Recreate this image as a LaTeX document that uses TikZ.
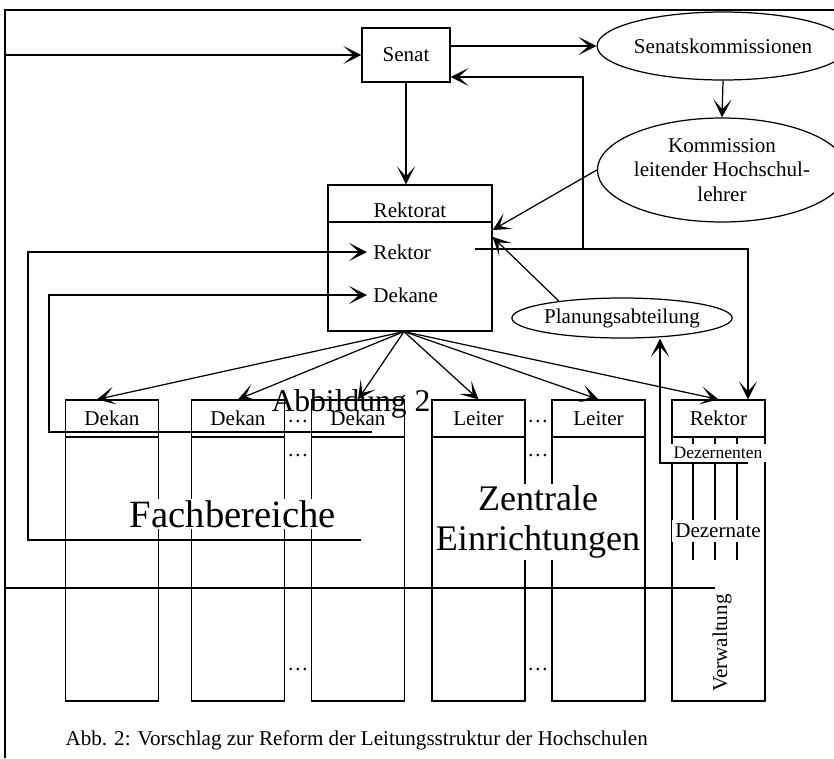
\documentclass[tikz,border=0pt]{standalone}
\usepackage{fontspec}
\setmainfont{Liberation Serif}
\usetikzlibrary{shapes,arrows.meta,positioning,calc}

\begin{document}
\begin{tikzpicture}[
    x=0.02cm, y=-0.02cm,
    line width=0.7pt,
    every node/.style={font=\fontsize{12}{14}\selectfont},
    box/.style={rectangle, draw, inner sep=0pt},
    oval/.style={ellipse, draw, inner sep=0pt, align=center},
    column/.style={
      rectangle, draw, minimum width=1.86cm, minimum height=6.02cm, inner sep=0pt,
      path picture={
        \draw ([yshift=-0.74cm]path picture bounding box.north west)
          -- ([yshift=-0.74cm]path picture bounding box.north east);
      }
    },
    head/.style={inner sep=1pt},
    cover/.style={fill=white, inner sep=2pt},
    big/.style={font=\fontsize{22}{24}\selectfont, fill=white, inner sep=1pt, align=center},
    arr/.style={-{Stealth[length=3.6mm, width=3.6mm, inset=2mm]}}
  ]
  \useasboundingbox (0,0) rectangle (834,758);
  % frame
  \draw (5,758) -- (5,10) -- (834,10);

  % top: Senat and commissions
  \node[box, minimum width=1.76cm, minimum height=1.08cm] (senat) at (406,55) {Senat};
  \node[oval, minimum width=4.26cm, minimum height=1.36cm] (sk) at (723,46) {Senatskommissionen};
  \node[oval, minimum width=4.42cm, minimum height=2.08cm] (kom) at (722,170) {Kommission\\leitender Hochschul-\\lehrer};
  \node[oval, minimum width=3.7cm, minimum height=0.8cm] (planung) at (622,318) {Planungsabteilung};

  % Rektorat
  \node[column, minimum width=3.28cm, minimum height=2.92cm] (rektorat) at (410,258) {};
  \node[head] (rektorat-head) at ([yshift=-0.52cm]rektorat.north) {Rektorat};
  \node[anchor=west] (rektor) at (367,252) {Rektor};
  \node[anchor=west] (dekane) at (367,295) {Dekane};

  % columns
  \foreach \c/\x in {fb1/112, fb2/238, fb3/358, ze1/478.5, ze2/598.5, vw/718.5}
    \node[column] (\c) at (\x,550.5) {};
  \foreach \c/\t in {fb1/Dekan, fb2/Dekan, fb3/Dekan, ze1/Leiter, ze2/Leiter, vw/Rektor}
    \node[head] (\c-head) at ([yshift=-0.38cm]\c.north) {\t};
  \foreach \x/\n in {298/fb, 538/ze} {
    \node[inner sep=0pt] (\n-dots-a) at (\x,422) {\ldots};
    \node[inner sep=0pt] (\n-dots-b) at (\x,456) {\ldots};
    \node[inner sep=0pt] (\n-dots-c) at (\x,670) {\ldots};
  }

  % Dezernate
  \foreach \x in {693,715,737}
    \draw (\x,436) -- (\x,560);
  \node[cover, font=\fontsize{10}{12}\selectfont] (dezernenten) at (718,453) {Dezernenten};
  \node[cover] (dezernate) at (718,531) {Dezernate};
  \node[rotate=90] (verwaltung) at (722,643) {Verwaltung};

  \node[big] (fachbereiche) at (233,514) {Fachbereiche};
  \node[big, font=\fontsize{20.5}{23}\selectfont] (zentrale) at (538,522) {Zentrale\\Einrichtungen};
  \node[font=\fontsize{18}{20}\selectfont] (abbildung) at (351,404) {Abbildung 2};

  \node[anchor=west, inner sep=0pt] (caption) at (65,740) {Abb. 2: Vorschlag zur Reform der Leitungsstruktur der Hochschulen};

  % connectors
  \draw[arr] (senat.east |- sk.west) -- (sk.west);
  \draw[arr] (sk.south) -- (kom.north);
  \draw[arr] (senat.south) -- (senat.south |- rektorat.north);
  \draw[arr] (kom.west) -- ([yshift=0.56cm]rektorat.east);
  \draw[arr] (planung.165) -- ([yshift=0.42cm]rektorat.east);

  \coordinate (rektorout) at (475,249);
  \coordinate (branch) at (583,249);
  \draw[arr] (rektorout) -| ([xshift=0.59cm]vw.north);
  \draw[arr] (branch) |- ([yshift=-0.44cm]senat.east);

  \coordinate (fan) at ([xshift=-0.12cm]rektorat.south);
  \draw[arr] (fan) -- ([xshift=-0.3cm]fb1.north);
  \foreach \c in {fb2,fb3,ze1,ze2,vw}
    \draw[arr] (fan) -- (\c.north);

  \coordinate (fbout) at (361,540);
  \draw[arr] (fbout) -- (28,540) |- (rektor.west);
  \coordinate (dekanout) at (372,432);
  \draw[arr] (dekanout) -- (49,432) |- (dekane.west);
  \coordinate (vwout) at (715,588);
  \draw[arr] (vwout) -- (5,588) |- (senat.west);
  \coordinate (dzout) at (748,463);
  \draw[arr] (dzout) -| ([xshift=0.76cm]planung.south);
\end{tikzpicture}
\end{document}
